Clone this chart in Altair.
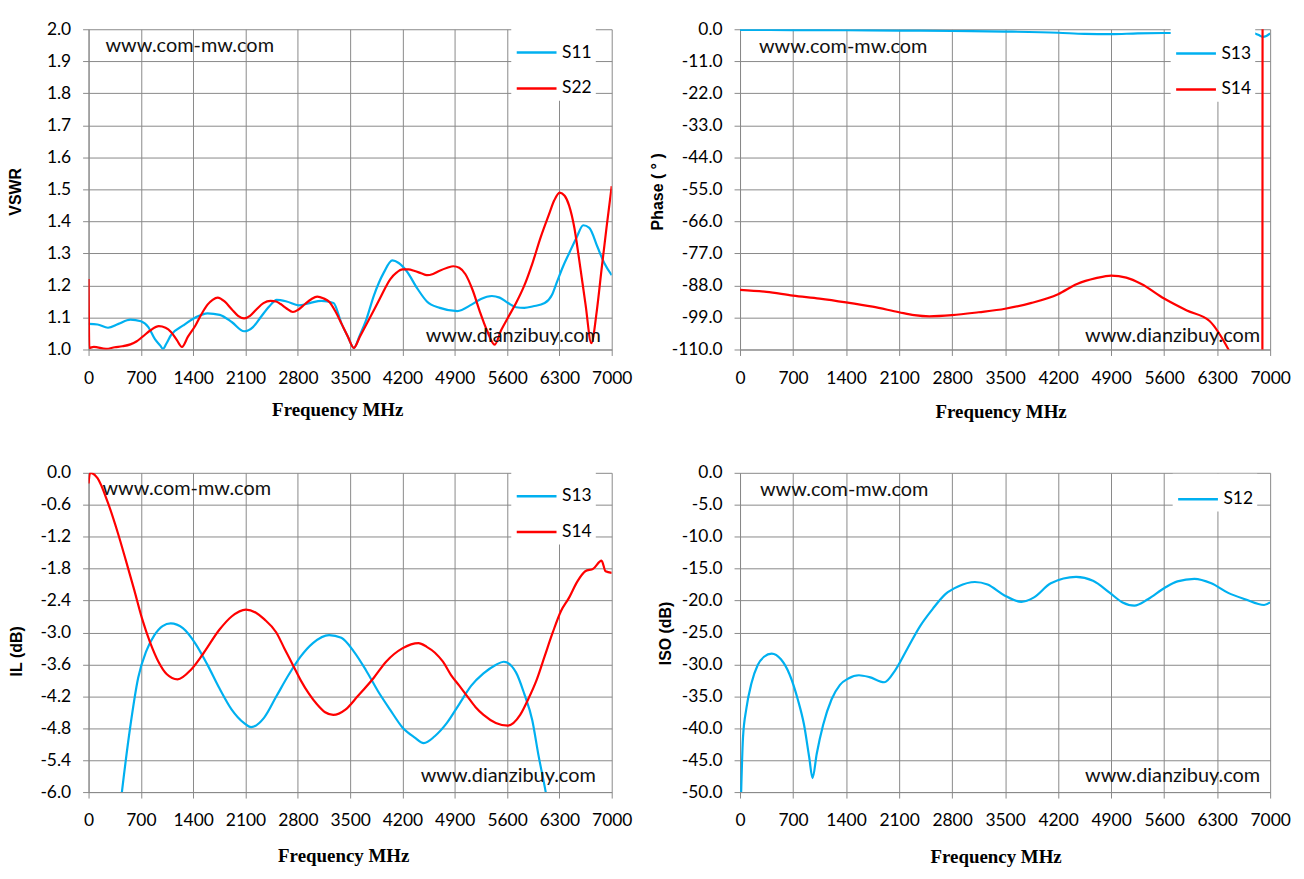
import altair as alt
import pandas as pd

XTICKS = [0, 700, 1400, 2100, 2800, 3500, 4200, 4900, 5600, 6300, 7000]
XTITLE = "Frequency MHz"
WM_TOP = "www.com-mw.com"
WM_BOTTOM = "www.dianzibuy.com"

# ---------- Panel 1 : VSWR ----------
VSWR_TICKS = [1.0, 1.1, 1.2, 1.3, 1.4, 1.5, 1.6, 1.7, 1.8, 1.9, 2.0]
S11_F = [0, 120, 260, 400, 560, 700, 800, 886, 960, 995, 1040, 1103, 1266, 1430, 1592, 1755,
         1920, 2081, 2200, 2300, 2420, 2516, 2650, 2815, 2960, 3114, 3277, 3386, 3470, 3549,
         3630, 3711, 3820, 3950, 4065, 4150, 4255, 4400, 4527, 4700, 4934, 5124, 5250, 5396,
         5500, 5613, 5720, 5831, 5950, 6103, 6200, 6266, 6350, 6429, 6530, 6619, 6700, 6810,
         6900, 7000]
S11_V = [1.08, 1.078, 1.068, 1.08, 1.093, 1.088, 1.07, 1.033, 1.012, 1.002, 1.018, 1.045,
         1.075, 1.10, 1.113, 1.108, 1.085, 1.057, 1.07, 1.10, 1.135, 1.155, 1.15, 1.138,
         1.145, 1.152, 1.145, 1.08, 1.04, 1.005, 1.045, 1.09, 1.17, 1.24, 1.278, 1.27, 1.245,
         1.19, 1.15, 1.13, 1.12, 1.14, 1.158, 1.167, 1.162, 1.145, 1.132, 1.13, 1.135, 1.145,
         1.17, 1.21, 1.26, 1.30, 1.35, 1.388, 1.38, 1.32, 1.27, 1.232]
S22_F = [0, 10, 70, 234, 350, 451, 560, 640, 723, 830, 940, 1030, 1103, 1180, 1250, 1330,
         1430, 1510, 1592, 1660, 1728, 1820, 1918, 2000, 2081, 2160, 2245, 2340, 2435, 2510,
         2570, 2650, 2734, 2810, 2897, 2980, 3060, 3140, 3223, 3300, 3386, 3470, 3549, 3630,
         3766, 3900, 4038, 4120, 4201, 4280, 4364, 4450, 4527, 4610, 4690, 4800, 4880, 4960,
         5043, 5140, 5233, 5330, 5434, 5520, 5613, 5720, 5831, 5940, 6049, 6158, 6230, 6304,
         6370, 6429, 6500, 6565, 6650, 6727, 6800, 6864, 6930, 7000]
S22_V = [1.22, 1.005, 1.008, 1.002, 1.007, 1.01, 1.016, 1.025, 1.04, 1.06, 1.073, 1.068,
         1.055, 1.03, 1.008, 1.04, 1.075, 1.11, 1.14, 1.155, 1.162, 1.15, 1.125, 1.105, 1.097,
         1.105, 1.125, 1.145, 1.152, 1.15, 1.142, 1.128, 1.117, 1.125, 1.142, 1.157, 1.165,
         1.16, 1.148, 1.12, 1.08, 1.04, 1.005, 1.04, 1.10, 1.16, 1.22, 1.24, 1.25, 1.25,
         1.245, 1.238, 1.232, 1.236, 1.245, 1.255, 1.26, 1.255, 1.235, 1.185, 1.12, 1.06,
         1.015, 1.06, 1.10, 1.145, 1.20, 1.27, 1.35, 1.42, 1.465, 1.49, 1.48, 1.45, 1.38,
         1.28, 1.14, 1.02, 1.12, 1.25, 1.38, 1.51]

# ---------- Panel 2 : Phase ----------
PHASE_TICKS = [0, -11, -22, -33, -44, -55, -66, -77, -88, -99, -110]
PH13_F = [0, 700, 1400, 2100, 2800, 3500, 4200, 4550, 4900, 5250, 5600, 6000, 6300, 6600,
          6750, 6850, 6900, 6950, 7000]
PH13_V = [-0.2, -0.3, -0.35, -0.45, -0.6, -0.8, -1.2, -1.6, -1.7, -1.4, -1.3, -1.3, -1.2,
          -0.9, -1.1, -2.0, -2.6, -2.3, -1.4]
PH14_F = [0, 350, 700, 1050, 1400, 1750, 2100, 2300, 2500, 2800, 3150, 3500, 3850, 4200,
          4450, 4700, 4900, 5100, 5300, 5600, 5900, 6200, 6450, 6600, 6750, 6880, 6895, 6905,
          7000]
PH14_V = [-89.5, -90.2, -91.5, -92.5, -93.8, -95.3, -97.2, -98.2, -98.6, -98.2, -97.2, -96.0,
          -94.0, -91.0, -87.5, -85.5, -84.6, -85.3, -87.5, -92.5, -96.6, -100.2, -110.0,
          -118.0, -130.0, -145.0, -178.0, 178.0, 150.0]

# ---------- Panel 3 : IL ----------
IL_TICKS = [0, -0.6, -1.2, -1.8, -2.4, -3.0, -3.6, -4.2, -4.8, -5.4, -6.0]
IL13_F = [350, 446, 555, 664, 772, 881, 990, 1099, 1262, 1425, 1588, 1751, 1915, 2078, 2176,
          2350, 2513, 2676, 2839, 3002, 3219, 3382, 3545, 3708, 3871, 4034, 4197, 4360, 4485,
          4632, 4795, 4958, 5121, 5284, 5447, 5556, 5719, 5829, 5937, 6019, 6117, 6200]
IL13_V = [-7.2, -6.0, -4.8, -3.85, -3.35, -3.05, -2.88, -2.83, -2.92, -3.2, -3.6, -4.05,
          -4.45, -4.7, -4.78, -4.6, -4.2, -3.8, -3.45, -3.2, -3.05, -3.1, -3.35, -3.7, -4.1,
          -4.45, -4.78, -4.97, -5.08, -4.95, -4.7, -4.35, -4.0, -3.77, -3.61, -3.55, -3.75,
          -4.15, -4.65, -5.3, -6.0, -6.7]
IL14_F = [0, 20, 120, 256, 392, 500, 609, 718, 827, 935, 1044, 1191, 1370, 1533, 1750, 1914,
          2105, 2240, 2350, 2512, 2620, 2730, 2839, 2948, 3056, 3165, 3274, 3437, 3600, 3817,
          3981, 4198, 4416, 4525, 4635, 4742, 4850, 4960, 5068, 5176, 5285, 5449, 5612, 5775,
          5884, 5993, 6102, 6211, 6320, 6428, 6537, 6646, 6755, 6864, 6918, 7000]
IL14_V = [-0.2, 0.0, -0.1, -0.55, -1.13, -1.65, -2.19, -2.75, -3.2, -3.55, -3.78, -3.88,
          -3.7, -3.4, -2.95, -2.7, -2.57, -2.63, -2.75, -3.0, -3.3, -3.6, -3.9, -4.15, -4.35,
          -4.5, -4.55, -4.45, -4.2, -3.85, -3.55, -3.3, -3.2, -3.27, -3.38, -3.55, -3.8, -4.0,
          -4.2, -4.4, -4.55, -4.7, -4.75, -4.55, -4.25, -3.9, -3.45, -3.0, -2.6, -2.35, -2.05,
          -1.85, -1.8, -1.65, -1.85, -1.88]

# ---------- Panel 4 : ISO ----------
ISO_TICKS = [0, -5, -10, -15, -20, -25, -30, -35, -40, -45, -50]
ISO12_F = [15, 39, 84, 150, 234, 317, 418, 540, 652, 763, 846, 913, 958, 1013, 1097, 1208,
           1320, 1431, 1570, 1709, 1904, 2044, 2211, 2378, 2545, 2712, 2879, 3102, 3269, 3492,
           3714, 3882, 4104, 4438, 4661, 4884, 5052, 5207, 5386, 5609, 5776, 6000, 6223, 6446,
           6669, 6920, 7000]
ISO12_V = [-50, -41.5, -36.9, -33, -30.1, -28.8, -28.3, -29.2, -31.5, -35.5, -39.5, -44.5,
           -47.8, -44, -39.5, -35.5, -33.2, -32.2, -31.7, -32.0, -32.8, -31, -27.5, -24.0,
           -21.3, -19, -17.8, -17.1, -17.5, -19.2, -20.2, -19.5, -17.3, -16.3, -16.9, -18.8,
           -20.3, -20.8, -19.8, -18.0, -17.0, -16.6, -17.3, -18.8, -19.8, -20.7, -20.3]

BLUE = "#00B0F0"
RED = "#FF0000"
GRID = "#898989"
NUM_FONT = "Lato"
LABEL_EXPR = "replace(format(datum.value, '.1f'), '\u2212', '-')"


def make_df(pairs):
    rows = []
    for name, fs, vs in pairs:
        for f, v in zip(fs, vs):
            rows.append({"f": f, "v": v, "s": name})
    return pd.DataFrame(rows)


def panel(pairs, colors, ydomain, yticks, ytitle, w, h, ytx, yty, xtx, xty,
          legx, legy, wm1x, wm1y, wm2x, wm2y):
    df = make_df(pairs)
    names = [p[0] for p in pairs]
    lines = alt.Chart(df).mark_line(strokeWidth=2.2, clip=True, interpolate="monotone").encode(
        x=alt.X("f:Q", scale=alt.Scale(domain=[0, 7000], nice=False, zero=False),
                axis=alt.Axis(values=XTICKS, format="d", title=XTITLE, titleX=xtx, titleY=xty,
                              titleBaseline="middle", titleAlign="center",
                              titleFont="Liberation Serif", titleFontSize=19,
                              titleFontWeight="bold", labelPadding=14,
                              labelOverlap=False, labelFlush=False)),
        y=alt.Y("v:Q", scale=alt.Scale(domain=ydomain, nice=False, zero=False),
                axis=alt.Axis(values=yticks, labelExpr=LABEL_EXPR, title=ytitle, titleX=ytx,
                              titleY=yty, titleBaseline="middle", titleAlign="center",
                              titleAngle=270, titleFont="Liberation Sans", titleFontSize=16,
                              titleFontWeight="bold", labelPadding=12,
                              labelOverlap=False, labelFlush=False)),
        color=alt.Color("s:N", scale=alt.Scale(domain=names, range=colors),
                        legend=alt.Legend(orient="none", legendX=legx, legendY=legy, title=None,
                                          symbolType="stroke", symbolSize=1600,
                                          symbolStrokeWidth=2.5, labelFont=NUM_FONT,
                                          labelFontSize=17.5, labelColor="#000",
                                          labelOffset=4, padding=4, rowPadding=6,
                                          fillColor="white")),
    )
    t1 = alt.Chart(pd.DataFrame({"t": [WM_TOP]})).mark_text(
        align="left", baseline="middle", font=NUM_FONT, fontSize=20, color="#111"
    ).encode(text="t:N", x=alt.value(wm1x), y=alt.value(wm1y))
    t2 = alt.Chart(pd.DataFrame({"t": [WM_BOTTOM]})).mark_text(
        align="right", baseline="middle", font=NUM_FONT, fontSize=20, color="#111"
    ).encode(text="t:N", x=alt.value(wm2x), y=alt.value(wm2y))
    return alt.layer(lines, t1, t2).properties(width=w, height=h)


p1 = panel([("S11", S11_F, S11_V), ("S22", S22_F, S22_V)], [BLUE, RED], [1.0, 2.0],
           VSWR_TICKS, "VSWR", 526, 322, -73, 163, 250, 60, 425, -2, 17, 17, 515, 308)
p2 = panel([("S13", PH13_F, PH13_V), ("S14", PH14_F, PH14_V)], [BLUE, RED], [-110, 0],
           PHASE_TICKS, "Phase ( ° )", 533, 322, -83, 163, 262, 62, 433, -1, 19, 18, 523, 308)
p3 = panel([("S13", IL13_F, IL13_V), ("S14", IL14_F, IL14_V)], [BLUE, RED], [-6.0, 0],
           IL_TICKS, "IL (dB)", 526, 321, -72, 179, 256, 64, 425, -2, 14, 16, 510, 305)
p4 = panel([("S12", ISO12_F, ISO12_V)], [BLUE], [-50, 0],
           ISO_TICKS, "ISO (dB)", 533, 321, -75, 161, 257, 65, 435, 1, 20, 17, 523, 305)

chart = alt.concat(p1, p2, p3, p4, columns=2).properties(
    spacing={"row": 124, "column": 129},
    bounds="flush",
    align="each",
    padding={"left": 0, "top": 10, "right": 5, "bottom": 5},
).resolve_scale(color="independent").resolve_legend(color="independent").configure_axis(
    gridColor=GRID, domainColor=GRID, tickColor=GRID, gridWidth=1, domainWidth=1,
    tickSize=6, labelFont=NUM_FONT, labelFontSize=17.5, labelColor="#000", titleColor="#000"
).configure_view(strokeWidth=0).configure_legend(strokeWidth=0)

chart.save("out.html", embed_options={"renderer": "svg", "actions": False})
